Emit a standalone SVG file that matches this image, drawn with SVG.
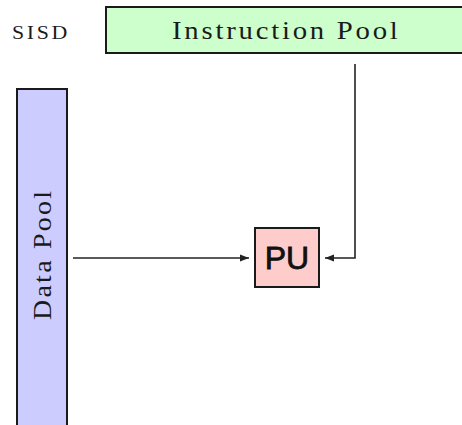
<svg xmlns="http://www.w3.org/2000/svg" width="462" height="425" viewBox="0 0 462 425">
  <style>
    .box { stroke: #1a1a1a; stroke-width: 2; }
    .serif { font-family: "Liberation Serif", "DejaVu Serif", serif; fill: #1a1a1a; }
    .wire { fill: none; stroke: #222; stroke-width: 1.6; }
  </style>
  <defs>
    <marker id="arrow" markerWidth="10" markerHeight="8" refX="9" refY="4" orient="auto" markerUnits="userSpaceOnUse">
      <path d="M0,0.5 L9,4 L0,7.5 Z" fill="#222"/>
    </marker>
  </defs>
  <rect width="462" height="425" fill="#ffffff"/>

  <text class="serif" transform="translate(12,39) scale(1.15,1)" font-size="19" letter-spacing="2.3">SISD</text>

  <g id="instruction-pool">
    <rect class="box" x="106" y="7" width="364" height="46" fill="#ccffcc"/>
    <text class="serif" transform="translate(172,39) scale(1.15,1)" font-size="25" letter-spacing="2.4">Instruction Pool</text>
  </g>

  <g id="data-pool">
    <rect class="box" x="17" y="89" width="50" height="345" fill="#ccccff"/>
    <text class="serif" transform="translate(51,320) rotate(-90) scale(1.12,1)" font-size="25" letter-spacing="2">Data Pool</text>
  </g>

  <g id="pu">
    <rect class="box" x="255" y="228" width="64" height="59" fill="#ffcccc"/>
    <text x="287" y="269" font-family="Liberation Sans, Arial, sans-serif" font-size="32" text-anchor="middle" fill="#111" stroke="#111" stroke-width="0.8">PU</text>
  </g>

  <g id="connectors">
    <path class="wire" d="M73,258 L249,258" marker-end="url(#arrow)"/>
    <path class="wire" d="M355,64 L355,258 L325,258" marker-end="url(#arrow)"/>
  </g>
</svg>
